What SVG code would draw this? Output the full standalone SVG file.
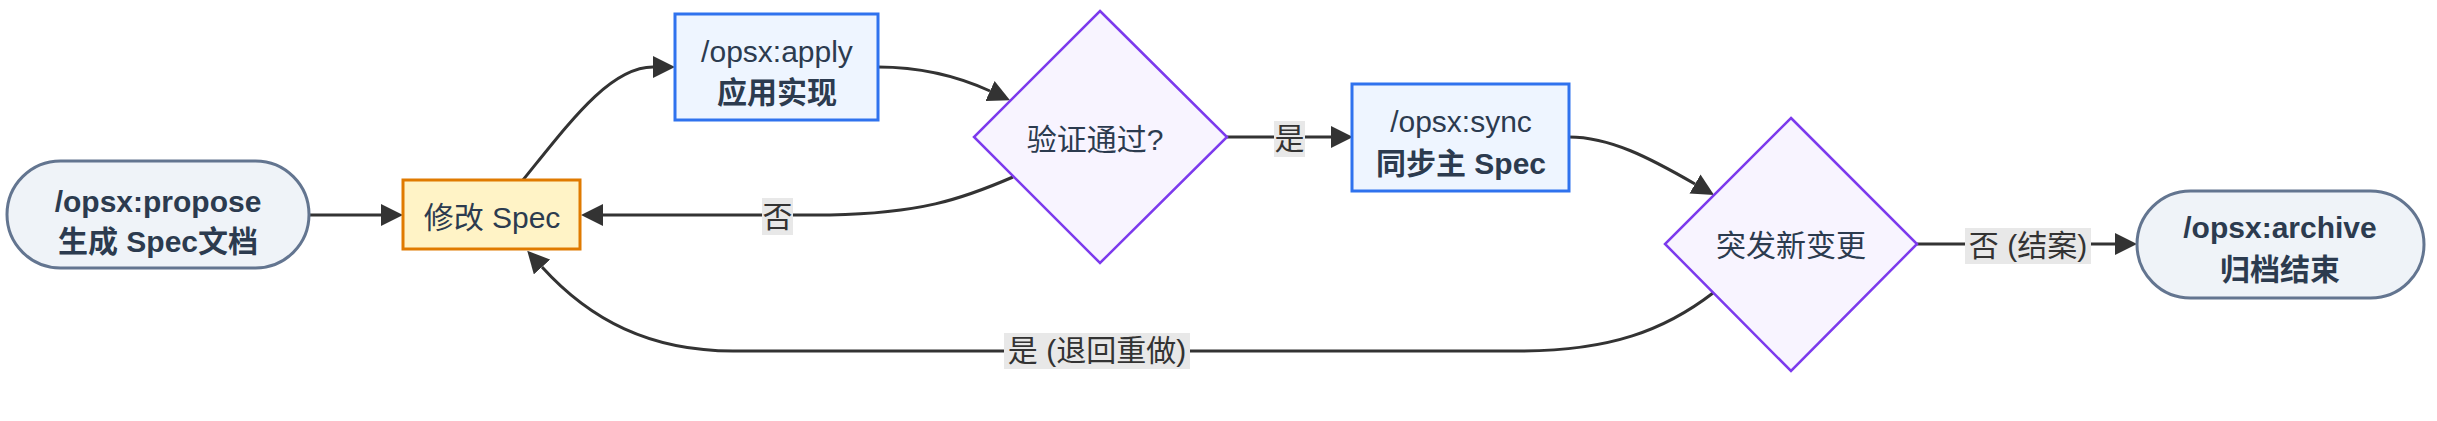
<svg xmlns="http://www.w3.org/2000/svg" width="2437" height="421" viewBox="0 0 2437 421">
<style>
text{font-family:"Liberation Sans","Noto Sans CJK SC",sans-serif;font-size:30px;text-anchor:middle;fill:#2c3b4f}
.b{font-weight:bold}
.term{fill:#eff3f8;stroke:#637590;stroke-width:3}
.edit{fill:#fff3c6;stroke:#e07a00;stroke-width:3}
.cmd{fill:#eef5ff;stroke:#2f72ee;stroke-width:3}
.dec{fill:#f8f4ff;stroke:#7c3aed;stroke-width:2.5}
.e{fill:none;stroke:#333;stroke-width:3;marker-end:url(#ah)}
.lbg{fill:#e8e8e8}
.lt{fill:#333}
</style>
<defs>
<marker id="ah" viewBox="0 0 10 10" refX="0" refY="5" markerUnits="userSpaceOnUse" markerWidth="22" markerHeight="22" orient="auto">
<path d="M0 0 L10 5 L0 10 z" fill="#333"/>
</marker>
</defs>
<rect width="2437" height="421" fill="#fff"/>
<g id="connectors">
<path class="e" d="M309 215 L381 215"/>
<path class="e" d="M523 180 C570 122 610 67 653 67"/>
<path class="e" d="M878 67 C920 67 955 75 990 91"/>
<path class="e" d="M1013 177 C960 200 920 213 830 215 L603 215"/>
<path class="e" d="M1227 137 L1331 137"/>
<path class="e" d="M1569 137 C1610 137 1650 158 1695 184"/>
<path class="e" d="M1917 244 L2115 244"/>
<path class="e" d="M1713 293 C1665 330 1610 351 1520 351 L733 351 C650 351 590 320 542 267"/>
</g>
<g id="edge-labels">
<g id="label-no1"><rect class="lbg" x="762" y="198" width="31" height="37"/><text class="lt" x="777.5" y="227">否</text></g>
<g id="label-yes1"><rect class="lbg" x="1274" y="121" width="31" height="36"/><text class="lt" x="1289.5" y="149">是</text></g>
<g id="label-no2"><rect class="lbg" x="1965" y="228" width="126" height="36"/><text class="lt" x="2028" y="256">否 (结案)</text></g>
<g id="label-yes2"><rect class="lbg" x="1004" y="333" width="186" height="36"/><text class="lt" x="1097" y="361">是 (退回重做)</text></g>
</g>
<g id="node-propose">
<rect class="term" x="7" y="161" width="302" height="107" rx="53.5"/>
<text class="b" x="158" y="212">/opsx:propose</text>
<text class="b" x="158" y="252">生成 Spec文档</text>
</g>
<g id="node-edit">
<rect class="edit" x="403" y="180" width="177" height="69"/>
<text x="492" y="228">修改 Spec</text>
</g>
<g id="node-apply">
<rect class="cmd" x="675" y="14" width="203" height="106"/>
<text x="777" y="62">/opsx:apply</text>
<text class="b" x="777" y="103">应用实现</text>
</g>
<g id="node-verify">
<polygon class="dec" points="1100,11 1227,137 1100,263 974,137"/>
<text x="1095" y="150">验证通过?</text>
</g>
<g id="node-sync">
<rect class="cmd" x="1352" y="84" width="217" height="107"/>
<text x="1461" y="132">/opsx:sync</text>
<text class="b" x="1461" y="174">同步主 Spec</text>
</g>
<g id="node-change">
<polygon class="dec" points="1791,118 1917,244 1791,371 1665,244"/>
<text x="1791" y="256">突发新变更</text>
</g>
<g id="node-archive">
<rect class="term" x="2137" y="191" width="287" height="107" rx="53.5"/>
<text class="b" x="2280" y="238">/opsx:archive</text>
<text class="b" x="2280" y="280">归档结束</text>
</g>
</svg>
